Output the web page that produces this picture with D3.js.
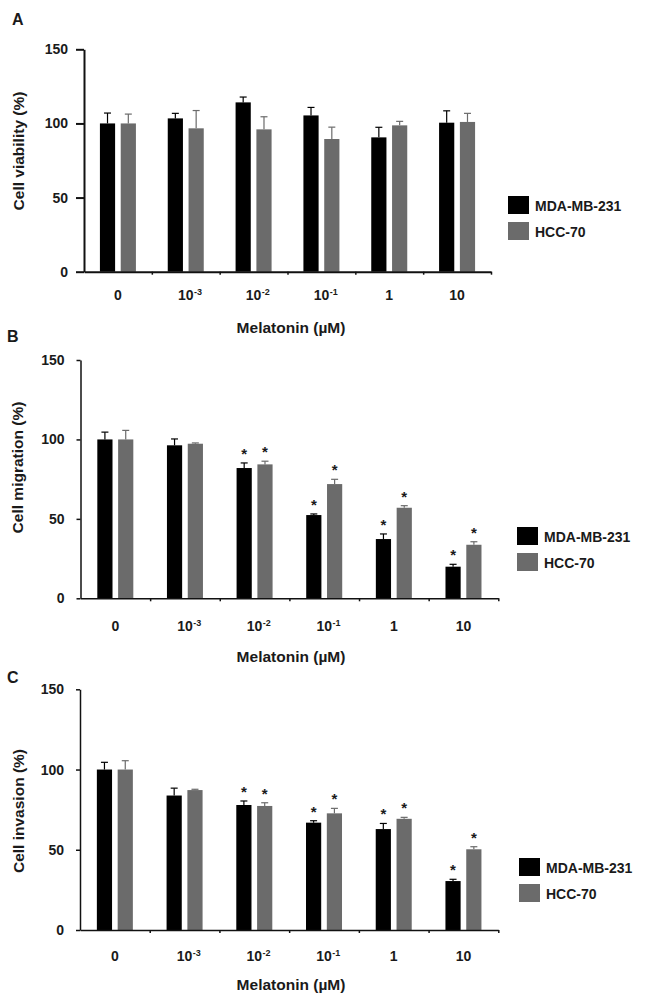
<!DOCTYPE html>
<html>
<head>
<meta charset="utf-8">
<script src="https://cdn.jsdelivr.net/npm/d3@7"></script>
<style>
  body { margin: 0; background: #fff; }
  svg { display: block; }
  text { font-family: "Liberation Sans", Arial, sans-serif; font-weight: bold; fill: #1a1a1a; }
</style>
</head>
<body>
<svg id="chart" width="647" height="1004"></svg>
<script>
// x categories (melatonin, µM)
const tickBase = ['0', '10', '10', '10', '1', '10'];
const tickSup = ['', '-3', '-2', '-1', '', ''];
const seriesNames = ['MDA-MB-231', 'HCC-70'];
const seriesColors = ['#000000', '#6b6b6b'];
const yTicks = [0, 50, 100, 150];

// A - viability
const viabilityMDA = [100, 103.4, 114.2, 105.4, 90.6, 100.5];
const viabilityMDAErr = [7, 3.4, 3.6, 5.4, 6.8, 8];
const viabilityHCC = [100, 96.7, 96, 89.5, 98.7, 101];
const viabilityHCCErr = [6.3, 12, 8.5, 8, 2.7, 5.8];

// B - migration
const migrationMDA = [100, 96.3, 82, 52.4, 37.3, 19.9];
const migrationMDAErr = [4.6, 4, 3.2, 0.7, 3.2, 1.5];
const migrationHCC = [100, 97.3, 84.3, 71.9, 57, 33.7];
const migrationHCCErr = [5.7, 0.5, 2, 3, 1.3, 1.9];

// C - invasion
const invasionMDA = [100, 83.8, 77.9, 66.9, 62.9, 30.5];
const invasionMDAErr = [4.5, 4.6, 2.5, 1.2, 3.5, 1.1];
const invasionHCC = [100, 87.2, 77.3, 72.7, 69.3, 50.3];
const invasionHCCErr = [5.5, 0.5, 2, 3.1, 0.9, 1.6];

// significance markers (*)
const sigNone = [0, 0, 0, 0, 0, 0];
const sigDose = [0, 0, 1, 1, 1, 1];

const svg = d3.select('#chart');

const panels = [
  {
    label: 'A', labelX: 12, labelY: 25,
    yTitle: 'Cell viability (%)', yTitleX: 24, yTitleY: 151,
    left: 84, right: 491, top: 49.3, bottom: 271.7,
    tickLen: 8, stroke: 2,
    tickLabelY: 300, xTitleY: 333,
    legendX: 508, legendY: 196,
    values: [viabilityMDA, viabilityHCC],
    errors: [viabilityMDAErr, viabilityHCCErr],
    sig: [sigNone, sigNone]
  },
  {
    label: 'B', labelX: 7, labelY: 341.7,
    yTitle: 'Cell migration (%)', yTitleX: 23, yTitleY: 467.5,
    left: 80.5, right: 498.3, top: 360, bottom: 598.3,
    tickLen: 4, stroke: 1.5,
    tickLabelY: 630.5, xTitleY: 662,
    legendX: 517, legendY: 527,
    values: [migrationMDA, migrationHCC],
    errors: [migrationMDAErr, migrationHCCErr],
    sig: [sigDose, sigDose]
  },
  {
    label: 'C', labelX: 7, labelY: 683,
    yTitle: 'Cell invasion (%)', yTitleX: 24, yTitleY: 811,
    left: 80, right: 498.3, top: 689.3, bottom: 930,
    tickLen: 4, stroke: 1.5,
    tickLabelY: 961, xTitleY: 990,
    legendX: 519, legendY: 858,
    values: [invasionMDA, invasionHCC],
    errors: [invasionMDAErr, invasionHCCErr],
    sig: [sigDose, sigDose]
  }
];

panels.forEach(drawPanel);

function drawPanel(p) {
  const g = svg.append('g');
  const idx = d3.range(tickBase.length);

  const x = d3.scaleBand().domain(idx).range([p.left, p.right]).padding(0);
  const xLin = d3.scaleLinear().domain([0, idx.length]).range([p.left, p.right]);
  const y = d3.scaleLinear().domain([0, 150]).range([p.bottom, p.top]);
  const xSub = d3.scaleBand().domain(d3.range(seriesNames.length))
    .range([-18, 18]).paddingInner(0.27).paddingOuter(0);

  // bars + error bars
  seriesNames.forEach((name, s) => {
    const rows = idx.map(i => ({ i, v: p.values[s][i], e: p.errors[s][i], sig: p.sig[s][i] }));
    const cx = d => x(d.i) + x.bandwidth() / 2 + xSub(s);

    g.append('g').selectAll('rect').data(rows).join('rect')
      .attr('x', cx)
      .attr('y', d => y(d.v))
      .attr('width', xSub.bandwidth())
      .attr('height', d => y(0) - y(d.v))
      .attr('fill', seriesColors[s]);

    const eb = g.append('g').attr('stroke', seriesColors[s]).attr('stroke-width', 1.2);
    eb.selectAll('line.v').data(rows).join('line').attr('class', 'v')
      .attr('x1', d => cx(d) + xSub.bandwidth() / 2)
      .attr('x2', d => cx(d) + xSub.bandwidth() / 2)
      .attr('y1', d => y(d.v))
      .attr('y2', d => y(d.v + d.e));
    eb.selectAll('line.c').data(rows).join('line').attr('class', 'c')
      .attr('x1', d => cx(d) + xSub.bandwidth() / 2 - 3.5)
      .attr('x2', d => cx(d) + xSub.bandwidth() / 2 + 3.5)
      .attr('y1', d => y(d.v + d.e))
      .attr('y2', d => y(d.v + d.e));

    g.append('g').selectAll('text').data(rows.filter(d => d.sig)).join('text')
      .attr('x', d => cx(d) + xSub.bandwidth() / 2)
      .attr('y', d => y(d.v + d.e) - 4)
      .attr('text-anchor', 'middle')
      .style('font-size', '15px')
      .text('*');
  });

  // y axis
  const yAxis = g.append('g')
    .attr('transform', `translate(${p.left},0)`)
    .call(d3.axisLeft(y).tickValues(yTicks).tickSize(p.tickLen).tickSizeOuter(0).tickPadding(p.tickLen > 5 ? 8 : 12));
  yAxis.select('.domain').attr('stroke', '#111').attr('stroke-width', p.stroke);
  yAxis.selectAll('.tick line').attr('stroke', '#111').attr('stroke-width', p.stroke);
  yAxis.selectAll('.tick text')
    .style('font-family', '"Liberation Sans", Arial, sans-serif')
    .style('font-weight', 'bold').style('font-size', '14px').attr('fill', '#1a1a1a');

  // x axis (ticks at category boundaries)
  const xAxis = g.append('g')
    .attr('transform', `translate(0,${p.bottom})`)
    .call(d3.axisBottom(xLin).tickValues(d3.range(1, idx.length + 1)).tickFormat('').tickSize(3).tickSizeOuter(0));
  xAxis.select('.domain').attr('stroke', '#111').attr('stroke-width', p.stroke);
  xAxis.selectAll('.tick line').attr('stroke', '#111').attr('stroke-width', 1.5);

  // x tick labels ("10" centred, exponent hanging to the right)
  idx.forEach(i => {
    const cxl = x(i) + x.bandwidth() / 2;
    const t = g.append('text')
      .attr('x', cxl).attr('y', p.tickLabelY)
      .attr('text-anchor', 'middle')
      .style('font-size', '14px')
      .text(tickBase[i]);
    if (tickSup[i]) {
      const w = t.node().getComputedTextLength();
      g.append('text')
        .attr('x', cxl + w / 2 + 0.5).attr('y', p.tickLabelY - 5)
        .style('font-size', '9px')
        .text(tickSup[i]);
    }
  });

  // axis titles
  g.append('text')
    .attr('x', 291).attr('y', p.xTitleY)
    .attr('text-anchor', 'middle')
    .style('font-size', '15.5px')
    .text('Melatonin (\u00b5M)');

  g.append('text')
    .attr('transform', `translate(${p.yTitleX},${p.yTitleY}) rotate(-90)`)
    .attr('text-anchor', 'middle')
    .style('font-size', '15.5px')
    .text(p.yTitle);

  // panel letter
  g.append('text')
    .attr('x', p.labelX).attr('y', p.labelY)
    .style('font-size', '16px')
    .text(p.label);

  // legend
  const lg = g.append('g').attr('transform', `translate(${p.legendX},${p.legendY})`);
  seriesNames.forEach((name, s) => {
    lg.append('rect')
      .attr('x', 0).attr('y', s * 26)
      .attr('width', 21).attr('height', 18)
      .attr('fill', seriesColors[s]);
    lg.append('text')
      .attr('x', 27).attr('y', s * 26 + 14.5)
      .style('font-size', '14px')
      .text(name);
  });
}
</script>
</body>
</html>
